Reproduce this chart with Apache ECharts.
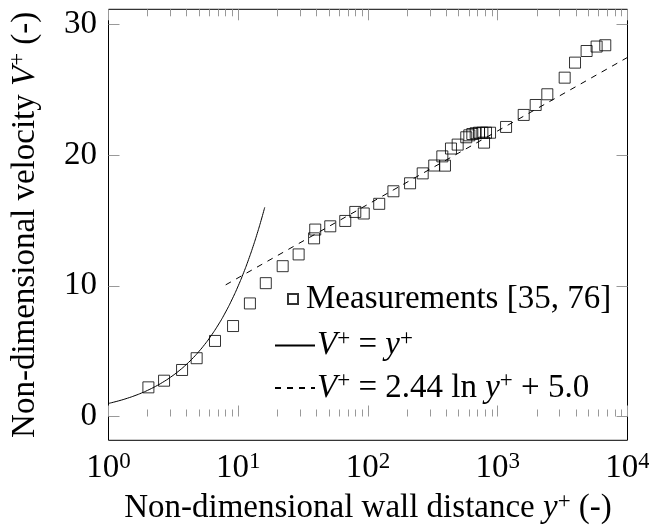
<!DOCTYPE html>
<html>
<head>
<meta charset="utf-8">
<script src="https://cdn.jsdelivr.net/npm/echarts@6/dist/echarts.min.js"></script>
<style>
html,body{margin:0;padding:0;background:#fff;}
#c{width:649px;height:531px;}
</style>
</head>
<body>
<div id="c"></div>
<script>
// Measurements (y+, V+)
var measX = [2.03, 2.68, 3.69, 4.78, 6.62, 9.12, 12.3, 16.3, 22.0, 29.2, 38.4, 39.2, 51.2, 66.8, 79.8, 92.7, 122, 157, 211, 264, 324, 374, 392, 436, 491, 572, 604, 637, 676, 717, 761, 812, 872, 784, 1159, 1585, 1960, 2410, 3280, 3940, 4840, 5780, 6740];
var measY = [2.23, 2.74, 3.56, 4.46, 5.78, 6.92, 8.65, 10.2, 11.5, 12.4, 13.63, 14.3, 14.55, 14.96, 15.65, 15.53, 16.27, 17.23, 17.84, 18.6, 19.2, 19.9, 19.19, 20.5, 20.8, 21.36, 21.51, 21.61, 21.67, 21.71, 21.71, 21.71, 21.71, 20.95, 22.15, 23.07, 23.83, 24.65, 25.92, 27.07, 27.96, 28.3, 28.4];
// Viscous sublayer V+ = y+
var linX = [1, 1.2, 1.4, 1.6, 1.8, 2, 2.3, 2.6, 3, 3.5, 4, 4.5, 5, 5.5, 6, 7, 8, 9, 10, 11, 12, 13, 14, 15, 16];
var linY = [1, 1.2, 1.4, 1.6, 1.8, 2, 2.3, 2.6, 3, 3.5, 4, 4.5, 5, 5.5, 6, 7, 8, 9, 10, 11, 12, 13, 14, 15, 16];
// Log law V+ = 2.44 ln y+ + 5.0
var logX = [8, 10000];
var logY = [10.07, 27.47];
// Ticks
var xMajor = [1, 10, 100, 1000, 10000];
var xExp = ['0', '1', '2', '3', '4'];
var xMinor = [2,3,4,5,6,7,8,9,20,30,40,50,60,70,80,90,200,300,400,500,600,700,800,900,2000,3000,4000,5000,6000,7000,8000,9000];
var yMajor = [0, 10, 20, 30];

var FONT = 'Liberation Serif';
var FS = 33;
var rich = {
  n: {fontFamily: FONT, fontSize: FS, color: '#000', lineHeight: 37},
  i: {fontFamily: FONT, fontSize: FS, fontStyle: 'italic', color: '#000', lineHeight: 37},
  s: {fontFamily: FONT, fontSize: 23, color: '#000', lineHeight: 24, verticalAlign: 'top'}
};

function zip(a, b) { return a.map(function (v, k) { return [v, b[k]]; }); }

var chart = echarts.init(document.getElementById('c'), null, {renderer: 'canvas'});
var tickStyle = {color: '#999', width: 1};
function minorAxis(pos) {
  return {type: 'log', logBase: 10, min: 1, max: 10000, position: pos, gridIndex: 0,
    axisLine: {show: false}, axisLabel: {show: false}, splitLine: {show: false},
    axisTick: {show: true, inside: true, length: 7, lineStyle: tickStyle, customValues: xMinor}};
}
var option = {
  animation: false,
  backgroundColor: '#fff',
  grid: {left: 108.5, right: 21.5, top: 9.3, bottom: 90.7, show: true, borderColor: '#000', borderWidth: 1,
    backgroundColor: 'transparent', containLabel: false, outerBoundsMode: 'none'},
  xAxis: [
    {type: 'log', logBase: 10, min: 1, max: 10000, position: 'bottom',
      name: '{n|Non-dimensional wall distance }{i|y}{s|+}{n| (-)}',
      nameLocation: 'middle', nameGap: 46,
      nameTextStyle: {rich: rich},
      axisLine: {show: false}, splitLine: {show: false},
      axisTick: {show: true, inside: true, length: 11, lineStyle: tickStyle, customValues: xMajor},
      axisLabel: {customValues: xMajor, margin: 10, rich: rich,
        formatter: function (v) { var k = xMajor.indexOf(v); return '{n|10}{s|' + xExp[k] + '}'; }}},
    minorAxis('bottom'),
    {type: 'log', logBase: 10, min: 1, max: 10000, position: 'top',
      axisLine: {show: false}, axisLabel: {show: false}, splitLine: {show: false},
      axisTick: {show: true, inside: true, length: 11, lineStyle: tickStyle, customValues: xMajor}},
    minorAxis('top')
  ],
  yAxis: [
    {type: 'value', min: -1.82, max: 31.15, position: 'left',
      name: '{n|Non-dimensional velocity }{i|V}{s|+}{n| (-)}',
      nameLocation: 'middle', nameGap: 65, nameTextStyle: {rich: rich},
      axisLine: {show: false}, splitLine: {show: false},
      axisTick: {show: true, inside: true, length: 11, lineStyle: tickStyle, customValues: yMajor},
      axisLabel: {customValues: yMajor, margin: 11.5, fontFamily: FONT, fontSize: FS, color: '#000', padding: [3, 0, 0, 0]}},
    {type: 'value', min: -1.82, max: 31.15, position: 'right',
      axisLine: {show: false}, splitLine: {show: false}, axisLabel: {show: false},
      axisTick: {show: true, inside: true, length: 11, lineStyle: tickStyle, customValues: yMajor}}
  ],
  legend: [
    {data: ['meas'], left: 287, top: 282.5, padding: 0, itemWidth: 10, itemHeight: 10, itemGap: 0,
      formatter: function () { return '{n|Measurements [35, 76]}'; },
      textStyle: {rich: rich, padding: [0, 0, 0, 3]}},
    {data: ['lin'], left: 274, top: 327, padding: 0, itemWidth: 40, itemHeight: 10,
      itemStyle: {opacity: 0, color: 'rgba(0,0,0,0)', borderWidth: 0},
      formatter: function () { return '{i|V}{s|+}{n| = }{i|y}{s|+}'; },
      textStyle: {rich: rich, padding: [0, 0, 0, -3]}},
    {data: ['log'], left: 274, top: 369.5, padding: 0, itemWidth: 40, itemHeight: 10,
      itemStyle: {opacity: 0, color: 'rgba(0,0,0,0)', borderWidth: 0},
      formatter: function () { return '{i|V}{s|+}{n| = 2.44 ln }{i|y}{s|+}{n| + 5.0}'; },
      textStyle: {rich: rich, padding: [0, 0, 0, -3]}}
  ],
  series: [
    {name: 'lin', type: 'line', xAxisIndex: 0, yAxisIndex: 0, data: zip(linX, linY),
      showSymbol: false, symbol: 'none', smooth: true,
      lineStyle: {color: '#000', width: 1}, itemStyle: {color: '#000'}},
    {name: 'log', type: 'line', xAxisIndex: 0, yAxisIndex: 0, data: zip(logX, logY),
      showSymbol: false, symbol: 'none',
      lineStyle: {color: '#000', width: 1, type: [6, 6]}, itemStyle: {color: '#000'}},
    {name: 'meas', type: 'scatter', xAxisIndex: 0, yAxisIndex: 0, data: zip(measX, measY),
      symbol: 'rect', symbolSize: 11,
      itemStyle: {color: 'rgba(255,255,255,0)', borderColor: '#000', borderWidth: 1}}
  ]
};
chart.setOption(option);
</script>
</body>
</html>
